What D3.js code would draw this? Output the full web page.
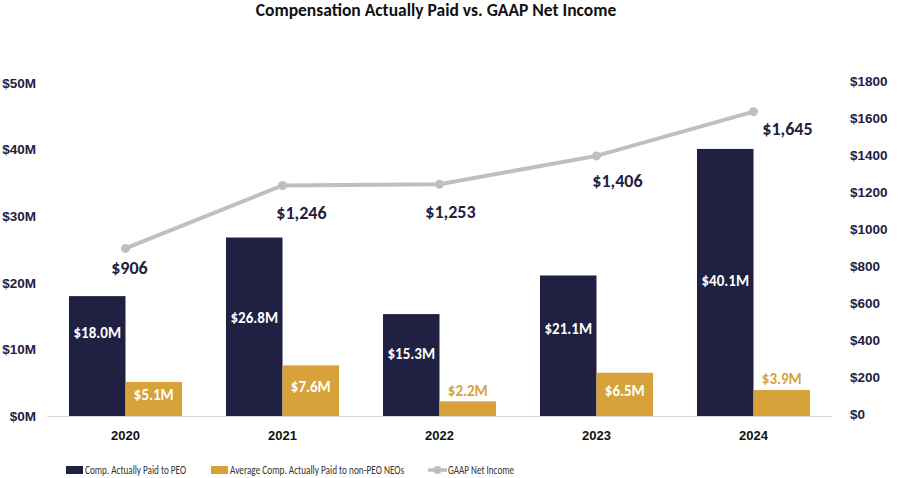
<!DOCTYPE html>
<html lang="en">
<head>
<meta charset="utf-8">
<title>Compensation Actually Paid vs. GAAP Net Income</title>
<script src="https://cdnjs.cloudflare.com/ajax/libs/d3/7.8.5/d3.min.js"></script>
<style>
  body { margin: 0; background: #fff; }
  svg { display: block; font-family: Carlito, Calibri, "Open Sans", sans-serif; }
</style>
</head>
<body>
<script>
// data
const years = ["2020", "2021", "2022", "2023", "2024"];
const peoPaid = [18.0, 26.8, 15.3, 21.1, 40.1];      // $M
const neoPaid = [5.1, 7.6, 2.2, 6.5, 3.9];           // $M
const netIncome = [906, 1246, 1253, 1406, 1645];     // $M
const leftTicks = [0, 10, 20, 30, 40, 50];
const rightTicks = [0, 200, 400, 600, 800, 1000, 1200, 1400, 1600, 1800];
const legendLabels = ["Comp. Actually Paid to PEO", "Average Comp. Actually Paid to non-PEO NEOs", "GAAP Net Income"];

// hand-placed label nudges, as in the original
const incomeLabelDx = [4, 19, 11, 21, 34];
const incomeLabelDy = [19, 27, 28, 25, 17];
const peoLabelDy = [-23, -9, -11, -17, -2];

const w = 900, h = 478;
const navy = "#1f2042", gold = "#d8a23a", grey = "#bfbfbf";
const plotLeft = 47, plotRight = 832, plotTop = 83, plotBottom = 416;

const svg = d3.select("body").append("svg")
  .attr("width", w)
  .attr("height", h);

const x = d3.scaleBand().domain(years).range([plotLeft, plotRight]).paddingInner(0.28).paddingOuter(0.14);
const x2 = d3.scaleBand().domain(["peo", "neo"]).range([0, x.bandwidth()]);
const yL = d3.scaleLinear().domain([0, 50]).range([plotBottom, plotTop]);
const yR = d3.scaleLinear().domain([0, 1800]).range([plotBottom, plotTop]);

// title
svg.append("text")
  .attr("x", 436).attr("y", 16)
  .attr("text-anchor", "middle")
  .attr("font-size", 17.5).attr("font-weight", 700)
  .attr("fill", "#111")
  .text("Compensation Actually Paid vs. GAAP Net Income");

// left axis
const axL = svg.append("g").attr("transform", "translate(39,0)")
  .call(d3.axisLeft(yL).tickValues(leftTicks).tickSize(0).tickFormat(d => "$" + d + "M"));
axL.select(".domain").remove();
axL.selectAll("text").attr("font-size", 13.5).attr("font-weight", 700)
  .attr("fill", navy).attr("font-family", "inherit");

// right axis
const axR = svg.append("g").attr("transform", "translate(847,-2)")
  .call(d3.axisRight(yR).tickValues(rightTicks).tickSize(0).tickFormat(d => "$" + d));
axR.select(".domain").remove();
axR.selectAll("text").attr("font-size", 13.5).attr("font-weight", 700)
  .attr("fill", navy).attr("font-family", "inherit");

// baseline
svg.append("line")
  .attr("x1", plotLeft).attr("x2", plotRight)
  .attr("y1", plotBottom + 0.5).attr("y2", plotBottom + 0.5)
  .attr("stroke", "#d9d9d9").attr("stroke-width", 1);

// x axis labels
const axX = svg.append("g").attr("transform", `translate(0,${plotBottom + 12})`)
  .call(d3.axisBottom(x).tickSize(0));
axX.select(".domain").remove();
axX.selectAll("text").attr("font-size", 13).attr("font-weight", 700)
  .attr("fill", "#111").attr("font-family", "inherit");

// bars
const groups = svg.selectAll("g.year")
  .data(years)
  .enter().append("g")
  .attr("class", "year")
  .attr("transform", d => `translate(${x(d)},0)`);

groups.append("rect")
  .attr("x", x2("peo"))
  .attr("y", (d, i) => yL(peoPaid[i]))
  .attr("width", x2.bandwidth())
  .attr("height", (d, i) => plotBottom - yL(peoPaid[i]))
  .attr("fill", navy);

groups.append("rect")
  .attr("x", x2("neo"))
  .attr("y", (d, i) => yL(neoPaid[i]))
  .attr("width", x2.bandwidth())
  .attr("height", (d, i) => plotBottom - yL(neoPaid[i]))
  .attr("fill", gold);

// bar labels
groups.append("text")
  .attr("x", x2("peo") + x2.bandwidth() / 2)
  .attr("y", (d, i) => (yL(peoPaid[i]) + plotBottom) / 2 + peoLabelDy[i])
  .attr("dy", "0.35em")
  .attr("text-anchor", "middle")
  .attr("font-size", 15).attr("font-weight", 700)
  .attr("fill", "#fff")
  .text((d, i) => "$" + peoPaid[i].toFixed(1) + "M");

// small gold bars get their label above, in gold
const isSmall = i => plotBottom - yL(neoPaid[i]) < 30;

groups.append("text")
  .attr("x", x2("neo") + x2.bandwidth() / 2)
  .attr("y", (d, i) => isSmall(i) ? yL(neoPaid[i]) - 11 : (yL(neoPaid[i]) + plotBottom) / 2 - 4)
  .attr("dy", "0.35em")
  .attr("text-anchor", "middle")
  .attr("font-size", 15).attr("font-weight", 700)
  .attr("fill", (d, i) => isSmall(i) ? gold : "#fff")
  .text((d, i) => "$" + neoPaid[i].toFixed(1) + "M");

// net income line
const cx = d => x(d) + x.bandwidth() / 2;
const line = d3.line()
  .x((d, i) => cx(years[i]))
  .y(d => yR(d));

svg.append("path")
  .datum(netIncome)
  .attr("d", line)
  .attr("fill", "none")
  .attr("stroke", grey)
  .attr("stroke-width", 4);

svg.selectAll("circle.pt")
  .data(netIncome)
  .enter().append("circle")
  .attr("class", "pt")
  .attr("cx", (d, i) => cx(years[i]))
  .attr("cy", d => yR(d))
  .attr("r", 4.5)
  .attr("fill", grey);

svg.selectAll("text.inc")
  .data(netIncome)
  .enter().append("text")
  .attr("class", "inc")
  .attr("x", (d, i) => cx(years[i]) + incomeLabelDx[i])
  .attr("y", (d, i) => yR(d) + incomeLabelDy[i])
  .attr("dy", "0.35em")
  .attr("text-anchor", "middle")
  .attr("font-size", 18).attr("font-weight", 700)
  .attr("fill", navy)
  .text(d => "$" + d3.format(",")(d));

// legend (condensed light text like the original)
const legend = svg.append("g").attr("transform", "translate(0,470)");
const lgX = [66, 211, 428];
const lgTextW = [101, 174, 66];

legend.append("rect").attr("x", lgX[0]).attr("y", -4).attr("width", 17).attr("height", 8).attr("fill", navy);
legend.append("rect").attr("x", lgX[1]).attr("y", -4).attr("width", 17).attr("height", 8).attr("fill", gold);
legend.append("line").attr("x1", lgX[2]).attr("x2", lgX[2] + 19).attr("y1", 0).attr("y2", 0)
  .attr("stroke", grey).attr("stroke-width", 3.5);
legend.append("circle").attr("cx", lgX[2] + 9.5).attr("cy", 0).attr("r", 4).attr("fill", grey);

legend.selectAll("text")
  .data(legendLabels)
  .enter().append("text")
  .attr("x", (d, i) => lgX[i] + (i === 2 ? 20 : 19))
  .attr("y", 0)
  .attr("dy", "0.35em")
  .attr("font-size", 11.5)
  .attr("textLength", (d, i) => lgTextW[i])
  .attr("lengthAdjust", "spacingAndGlyphs")
  .attr("fill", "#333")
  .text(d => d);
</script>
</body>
</html>
